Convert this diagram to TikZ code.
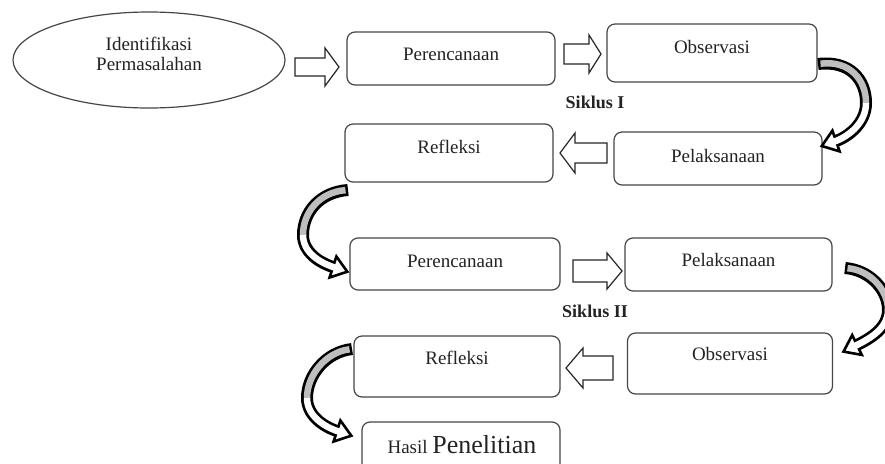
\documentclass[tikz,border=0pt]{standalone}
\usepackage{fontspec}
\setmainfont{Liberation Serif}
\usetikzlibrary{shapes.geometric}
\definecolor{boxc}{RGB}{70,70,70}
\definecolor{txtc}{RGB}{35,35,35}
\definecolor{bandgray}{RGB}{190,190,190}
\newcommand\blkarrow[6]{% x0, xb, xt, c, s, h
  \draw[blk] (#1,#4-#5) -- (#2,#4-#5) -- (#2,#4-#6) -- (#3,#4) -- (#2,#4+#6) -- (#2,#4+#5) -- (#1,#4+#5) -- cycle;}
\begin{document}
\begin{tikzpicture}[x=1pt,y=-1pt,
  box/.style={draw=boxc, line width=1.2pt, rounded corners=8pt, inner sep=0pt},
  txt/.style={text=txtc, font=\fontsize{19}{22}\selectfont, inner sep=0pt, anchor=base},
  sik/.style={text=txtc, font=\fontsize{18}{22}\selectfont\bfseries, inner sep=0pt, anchor=base},
  blk/.style={draw=black!85, line width=1.2pt, fill=white, line join=miter},
  band/.style={draw=black, line width=12pt},
  inner/.style={line width=6.5pt},
  head/.style={draw=black, fill=white, line width=2.6pt, line join=miter}]
\useasboundingbox (0,0) rectangle (885,463);
\clip (0,0) rectangle (885,463);
\fill[white] (0,0) rectangle (885,463);

% ellipse
\node[draw=boxc, line width=1.2pt, ellipse, minimum width=272pt, minimum height=96pt, inner sep=0pt] (id) at (149,60) {};
\node[txt] (idt1) at (149,50) {Identifikasi};
\node[txt] (idt2) at (149,70) {Permasalahan};

% boxes cycle I
\node[box, minimum width=208pt, minimum height=53pt] (per1) at (451,58.5) {};
\node[txt] (per1t) at (451,60) {Perencanaan};
\node[box, minimum width=210pt, minimum height=58pt] (obs1) at (712,53) {};
\node[txt] (obs1t) at (712,53) {Observasi};
\node[sik] (sik1) at (595,108) {Siklus I};
\node[box, minimum width=208pt, minimum height=58pt] (ref1) at (449,153) {};
\node[txt] (ref1t) at (449,153) {Refleksi};
\node[box, minimum width=208pt, minimum height=53pt] (pel1) at (718,158.5) {};
\node[txt] (pel1t) at (718,162) {Pelaksanaan};

% boxes cycle II
\node[box, minimum width=210pt, minimum height=52pt] (per2) at (455,264) {};
\node[txt] (per2t) at (455,267) {Perencanaan};
\node[box, minimum width=207pt, minimum height=53pt] (pel2) at (728.5,264.5) {};
\node[txt] (pel2t) at (728.5,266) {Pelaksanaan};
\node[sik] (sik2) at (595,317) {Siklus II};
\node[box, minimum width=206pt, minimum height=61pt] (ref2) at (457,366.5) {};
\node[txt] (ref2t) at (457,364) {Refleksi};
\node[box, minimum width=205pt, minimum height=61pt] (obs2) at (730,363.5) {};
\node[txt] (obs2t) at (730,360) {Observasi};
\node[box, minimum width=198pt, minimum height=60pt] (has) at (461,452) {};
\node[text=txtc, inner sep=0pt, anchor=base] (hast) at (462,453) {\fontsize{19}{22}\selectfont Hasil \fontsize{26}{30}\selectfont Penelitian};

% straight block arrows
\blkarrow{295}{325}{339}{67}{9}{19}
\blkarrow{564}{589}{601}{54}{10}{19}
\blkarrow{607}{575}{560}{153}{10}{20}
\blkarrow{573}{607}{622}{271}{11}{18}
\blkarrow{613}{583}{566}{368}{12}{20}

% curved arrow 1: Observasi -> Pelaksanaan
\draw[band] (818,64) .. controls (850,60) and (866,80) .. (866,103) .. controls (866,122) and (850,136) .. (836,141);
\draw[head] (832.4,130.6) -- (821.8,146) -- (839.6,151.4) -- cycle;
\draw[inner, draw=bandgray, shorten <=2.5pt] (818,64) .. controls (850,60) and (866,80) .. (866,103);
\draw[inner, draw=white, shorten >=-2pt] (866,103) .. controls (866,122) and (850,136) .. (836,141);

% curved arrow 2: Refleksi -> Perencanaan
\draw[band] (348,190) .. controls (320,192) and (303,212) .. (303,235) .. controls (303,252) and (318.8,262.4) .. (333,267);
\draw[head] (329.6,277.5) -- (347.3,271.7) -- (336.4,256.5) -- cycle;
\draw[inner, draw=bandgray, shorten <=2.5pt] (348,190) .. controls (320,192) and (303,212) .. (303,235);
\draw[inner, draw=white, shorten >=-2pt] (303,235) .. controls (303,252) and (318.8,262.4) .. (333,267);

% curved arrow 3: Pelaksanaan -> Observasi
\draw[band] (845,268) .. controls (870,270) and (888,290) .. (888,310) .. controls (888,328) and (870.5,338.4) .. (857,345);
\draw[head] (861.8,354.9) -- (843.5,351.6) -- (852.2,335.1) -- cycle;
\draw[inner, draw=bandgray, shorten <=2.5pt] (845,268) .. controls (870,270) and (888,290) .. (888,310);
\draw[inner, draw=white, shorten >=-2pt] (888,310) .. controls (888,328) and (870.5,338.4) .. (857,345);

% curved arrow 4: Refleksi -> Hasil Penelitian
\draw[band] (352,349) .. controls (326,352) and (307,375) .. (307,398) .. controls (307,415) and (322.8,426.4) .. (337,431);
\draw[head] (333.6,441.5) -- (351.3,435.7) -- (340.4,420.5) -- cycle;
\draw[inner, draw=bandgray, shorten <=2.5pt] (352,349) .. controls (326,352) and (307,375) .. (307,398);
\draw[inner, draw=white, shorten >=-2pt] (307,398) .. controls (307,415) and (322.8,426.4) .. (337,431);
\end{tikzpicture}
\end{document}
